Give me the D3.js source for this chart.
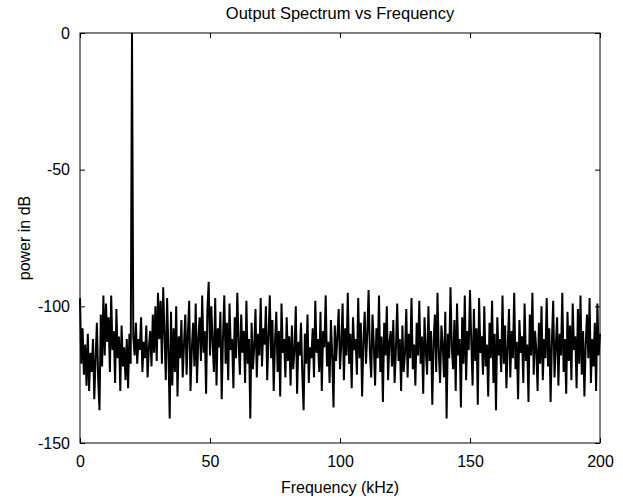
<!DOCTYPE html>
<html>
<head>
<meta charset="utf-8">
<script src="https://cdn.jsdelivr.net/npm/d3@7"></script>
<style>
  body { margin: 0; background: #fff; }
  svg text { font-family: "Liberation Sans", Arial, Helvetica, sans-serif; fill: #000; }
</style>
</head>
<body>
<svg id="chart"></svg>
<script>
// frequency step of the spectrum (kHz) and axis ticks
const freqStep = 0.5;
const xTicks = [0, 50, 100, 150, 200];
const yTicks = [0, -50, -100, -150];

// power in dB, one value every 0.5 kHz from 0 to 200
const power = [
  -97, -121, -108, -125, -114, -129, -110, -131, -117, -124, -112, -134, -119, -106, -127, -138, -103, -122, -96, -118,
  -99, -113, -104, -124, -96, -116, -109, -128, -101, -119, -111, -131, -107, -122, -115, -127, -112, -130, -110, -121,
  0, -111, -118, -106, -121, -112, -116, -104, -124, -113, -119, -107, -126, -115, -109, -122, -103, -117, -100, -120,
  -95, -112, -98, -121, -93, -110, -127, -97, -116, -141, -102, -129, -108, -124, -100, -133, -111, -119, -105, -126,
  -114, -103, -125, -110, -98, -131, -116, -106, -122, -99, -128, -112, -104, -120, -96, -117, -109, -132, -101, -91,
  -118, -100, -113, -124, -97, -129, -108, -115, -102, -134, -111, -96, -121, -106, -127, -99, -116, -112, -130, -104,
  -119, -95, -113, -125, -103, -117, -109, -128, -98, -121, -112, -141, -106, -123, -115, -101, -126, -110, -118, -97,
  -122, -108, -114, -100, -127, -111, -96, -119, -105, -131, -113, -102, -124, -109, -133, -99, -117, -112, -126, -104,
  -120, -111, -129, -107, -123, -116, -100, -132, -113, -118, -106, -125, -138, -110, -121, -103, -128, -115, -119, -108,
  -126, -98, -117, -112, -124, -102, -131, -109, -115, -96, -122, -113, -128, -105, -118, -137, -107, -120, -111, -101,
  -123, -114, -99, -127, -108, -118, -95, -121, -110, -130, -104, -116, -112, -125, -97, -119, -106, -133, -113, -102,
  -121, -110, -94, -117, -126, -103, -114, -129, -108, -119, -96, -124, -111, -135, -106, -118, -100, -127, -113, -109,
  -122, -105, -128, -116, -99, -120, -112, -131, -107, -124, -117, -101, -126, -110, -119, -97, -123, -114, -129, -106,
  -118, -98, -121, -111, -132, -104, -116, -125, -100, -120, -109, -136, -113, -103, -124, -95, -117, -128, -107, -114,
  -126, -102, -141, -110, -119, -93, -115, -123, -105, -131, -99, -118, -112, -137, -104, -121, -96, -127, -109, -116,
  -94, -113, -129, -101, -120, -108, -136, -97, -117, -111, -125, -100, -122, -114, -133, -106, -119, -98, -128, -110,
  -138, -104, -118, -112, -124, -96, -121, -107, -130, -115, -101, -126, -109, -119, -95, -123, -113, -134, -105, -117,
  -111, -128, -99, -120, -114, -135, -103, -118, -95, -125, -109, -116, -131, -106, -121, -100, -127, -112, -119, -97,
  -122, -108, -135, -113, -98, -126, -115, -104, -129, -110, -118, -95, -124, -112, -132, -102, -120, -107, -127, -99,
  -116, -111, -130, -101, -121, -96, -125, -109, -133, -114, -103, -119, -97, -128, -112, -122, -106, -131, -99, -118,
  -110
];

function drawChart(width, height) {
  let margin = { top: 33, right: 23, bottom: 56, left: 80 };
  let innerW = width - margin.left - margin.right;
  let innerH = height - margin.top - margin.bottom;

  let svg = d3.select("#chart")
    .attr("width", width)
    .attr("height", height);

  svg.append("rect")
    .attr("width", width)
    .attr("height", height)
    .attr("fill", "#fff");

  let x = d3.scaleLinear().domain([0, 200]).range([0, innerW]);
  let y = d3.scaleLinear().domain([-150, 0]).range([innerH, 0]);

  let g = svg.append("g")
    .attr("transform", `translate(${margin.left},${margin.top})`);

  let data = power.map((p, i) => ({ f: i * freqStep, p: p }));

  let line = d3.line()
    .x(d => x(d.f))
    .y(d => y(d.p));

  g.append("path")
    .datum(data)
    .attr("fill", "none")
    .attr("stroke", "#000")
    .attr("stroke-width", 2)
    .attr("stroke-linejoin", "bevel")
    .attr("d", line);

  // plain hyphen for negative labels, like the original
  let fmt = d => String(d);

  // matlab style box with inward ticks on every side
  let tickStyle = sel => {
    sel.select(".domain").remove();
    sel.selectAll(".tick line").attr("stroke", "#000");
    sel.selectAll(".tick text").attr("font-size", "16px");
  };

  g.append("g")
    .attr("transform", `translate(0,${innerH})`)
    .call(d3.axisBottom(x).tickValues(xTicks).tickSize(-5).tickPadding(13).tickFormat(fmt))
    .call(tickStyle);

  g.append("g")
    .call(d3.axisTop(x).tickValues(xTicks).tickSize(-5).tickFormat(""))
    .call(tickStyle);

  g.append("g")
    .call(d3.axisLeft(y).tickValues(yTicks).tickSize(-5).tickPadding(10).tickFormat(fmt))
    .call(tickStyle);

  g.append("g")
    .attr("transform", `translate(${innerW},0)`)
    .call(d3.axisRight(y).tickValues(yTicks).tickSize(-5).tickFormat(""))
    .call(tickStyle);

  g.append("rect")
    .attr("width", innerW)
    .attr("height", innerH)
    .attr("fill", "none")
    .attr("stroke", "#000")
    .attr("stroke-width", 1);

  svg.append("text")
    .attr("x", margin.left + innerW / 2)
    .attr("y", 19)
    .attr("font-size", "16.5px")
    .style("text-anchor", "middle")
    .text("Output Spectrum vs Frequency");

  svg.append("text")
    .attr("x", margin.left + innerW / 2)
    .attr("y", 493)
    .attr("font-size", "16px")
    .style("text-anchor", "middle")
    .text("Frequency (kHz)");

  svg.append("text")
    .attr("transform", `translate(30,${margin.top + innerH / 2}) rotate(-90)`)
    .attr("font-size", "16px")
    .style("text-anchor", "middle")
    .text("power in dB");
}

drawChart(623, 499);
</script>
</body>
</html>
